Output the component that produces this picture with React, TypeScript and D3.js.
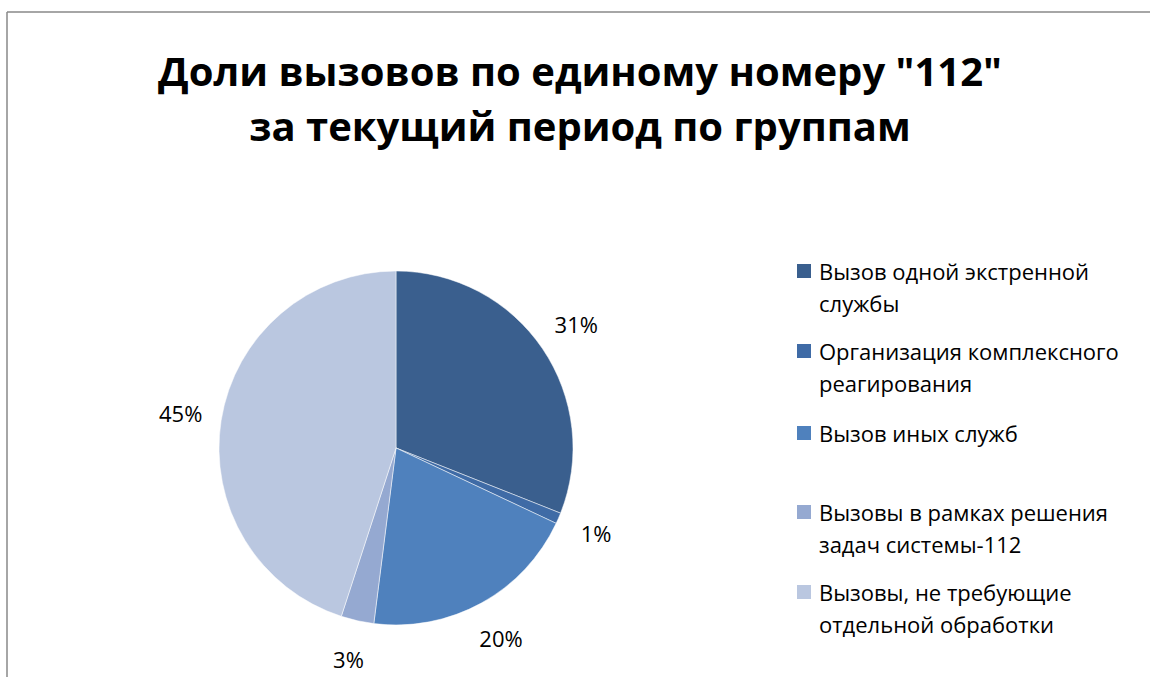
import React from 'react';
import * as d3 from 'd3';

const titleLines = ['Доли вызовов по единому номеру "112"', 'за текущий период по группам'];
const categories = [
  'Вызов одной экстренной службы',
  'Организация комплексного реагирования',
  'Вызов иных служб',
  'Вызовы в рамках решения задач системы-112',
  'Вызовы, не требующие отдельной обработки',
];
const legendLines = [
  ['Вызов одной экстренной', 'службы'],
  ['Организация комплексного', 'реагирования'],
  ['Вызов иных служб'],
  ['Вызовы в рамках решения', 'задач системы-112'],
  ['Вызовы, не требующие', 'отдельной обработки'],
];
const values = [31, 1, 20, 3, 45];
const colors = ['#3a5f8e', '#3f6ba6', '#4f81bd', '#95a9d1', '#bac7e0'];
// vertical position of each legend entry's first line
const legendRowY = [272, 352, 434, 513, 593];

const W = 1150;
const H = 677;
const cx = 396;
const cy = 448;
const radius = 177;
const font = '"Open Sans", Calibri, sans-serif';

export default function App() {
  const pie = d3.pie<number>().value(d => d).sort(null);
  const arcs = pie(values);
  const arc = d3.arc<d3.PieArcDatum<number>>().innerRadius(0).outerRadius(radius);
  const labelArc = d3.arc<d3.PieArcDatum<number>>().innerRadius(218).outerRadius(218);
  const total = d3.sum(values);

  return (
    <svg width={W} height={H} style={{ position: 'absolute', left: 0, top: 0, background: '#fff' }}>
      <rect x={0} y={0} width={W} height={H} fill="#fff" />
      <line x1={7} y1={12} x2={W} y2={12} stroke="#888" strokeWidth={1.5} />
      <line x1={7} y1={12} x2={7} y2={H} stroke="#888" strokeWidth={1.5} />

      {titleLines.map((t, i) => (
        <text key={i} x={580} y={86 + i * 55} textAnchor="middle" fontFamily={font}
          fontWeight="bold" fontSize={40} fill="#000">{t}</text>
      ))}

      <g transform={`translate(${cx},${cy})`}>
        {arcs.map((a, i) => (
          <path key={i} d={arc(a) || ''} fill={colors[i]} stroke="#fff" strokeWidth={0.5} />
        ))}
        {arcs.map((a, i) => {
          const [lx, ly] = labelArc.centroid(a);
          return (
            <text key={i} x={lx} y={ly} dy="0.35em" textAnchor="middle" fontFamily={font}
              fontSize={22} fill="#000">{`${Math.round((a.data / total) * 100)}%`}</text>
          );
        })}
      </g>

      <g>
        {categories.map((c, i) => (
          <g key={c} transform={`translate(797,${legendRowY[i]})`}>
            <rect x={0} y={-8} width={14} height={14} fill={colors[i]} />
            {legendLines[i].map((l, j) => (
              <text key={j} x={22} y={j * 32} dy="0.35em" fontFamily={font} fontSize={22} fill="#000">{l}</text>
            ))}
          </g>
        ))}
      </g>
    </svg>
  );
}
